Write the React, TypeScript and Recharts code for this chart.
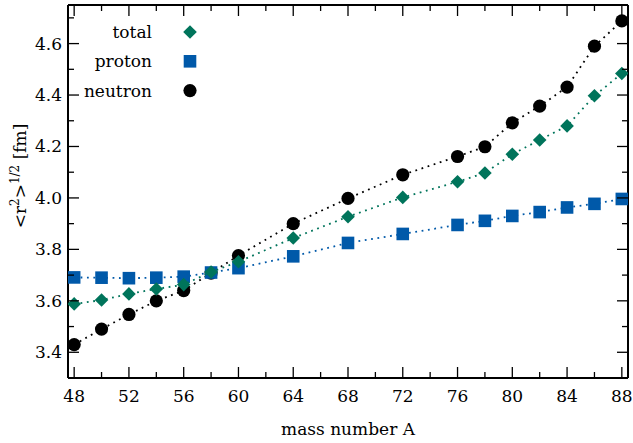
import { ScatterChart, Scatter, XAxis, YAxis, Label, ReferenceLine } from 'recharts';

// mass number A and rms radii <r^2>^1/2 in fm
const massNumbers = [48, 50, 52, 54, 56, 58, 60, 64, 68, 72, 76, 78, 80, 82, 84, 86, 88];
const totalRadius = [3.588, 3.603, 3.627, 3.646, 3.663, 3.712, 3.752, 3.844, 3.927, 4.002, 4.063, 4.097, 4.17, 4.225, 4.28, 4.397, 4.484];
const protonRadius = [3.691, 3.69, 3.688, 3.69, 3.694, 3.71, 3.727, 3.773, 3.825, 3.86, 3.895, 3.911, 3.93, 3.945, 3.963, 3.977, 3.996];
const neutronRadius = [3.43, 3.49, 3.547, 3.6, 3.64, 3.708, 3.776, 3.9, 3.998, 4.09, 4.161, 4.199, 4.292, 4.357, 4.431, 4.59, 4.688];

const xTicks = [48, 50, 52, 54, 56, 58, 60, 62, 64, 66, 68, 70, 72, 74, 76, 78, 80, 82, 84, 86, 88];
const yTicks = [3.4, 3.5, 3.6, 3.7, 3.8, 3.9, 4.0, 4.1, 4.2, 4.3, 4.4, 4.5, 4.6, 4.7];

const GREEN = '#00745b';
const BLUE = '#0059a9';
const FONT = '"DejaVu Serif", serif';
const W = 633;
const H = 443;
const MARGIN = { top: 5, right: 5, bottom: 0, left: 0 };
const PLOT_TOP = MARGIN.top;
const PLOT_RIGHT = W - MARGIN.right;

const toPoints = (ys: number[]) => massNumbers.map((a, i) => ({ a, r: ys[i] }));

const Diamond = ({ cx, cy, fill }: any) => (
  <path d={`M${cx},${cy - 6.8}L${cx + 6.8},${cy}L${cx},${cy + 6.8}L${cx - 6.8},${cy}Z`} fill={fill} />
);
const Square = ({ cx, cy, fill }: any) => <rect x={cx - 6.3} y={cy - 6.3} width={12.6} height={12.6} fill={fill} />;
const Dot = ({ cx, cy, fill }: any) => <circle cx={cx} cy={cy} r={6.6} fill={fill} />;

const isMajorX = (v: number) => v % 4 === 0;
const isMajorY = (v: number) => Math.round(v * 10) % 2 === 0;

// bottom ticks, mirrored on the top edge
const BottomTick = ({ x, y, payload }: any) => {
  const major = isMajorX(payload.value);
  const len = major ? 11 : 6;
  return (
    <g>
      <line x1={x} x2={x} y1={y} y2={y - len} stroke="#000" strokeWidth={1.3} />
      <line x1={x} x2={x} y1={PLOT_TOP} y2={PLOT_TOP + len} stroke="#000" strokeWidth={1.3} />
      {major && (
        <text x={x} y={y + 24} textAnchor="middle" fontSize={17} fontFamily={FONT} fill="#000">
          {payload.value}
        </text>
      )}
    </g>
  );
};

// left ticks, mirrored on the right edge
const LeftTick = ({ x, y, payload }: any) => {
  const major = isMajorY(payload.value);
  const len = major ? 11 : 6;
  return (
    <g>
      <line x1={x} x2={x + len} y1={y} y2={y} stroke="#000" strokeWidth={1.3} />
      <line x1={PLOT_RIGHT} x2={PLOT_RIGHT - len} y1={y} y2={y} stroke="#000" strokeWidth={1.3} />
      {major && (
        <text x={x - 6} y={y + 6} textAnchor="end" fontSize={17} fontFamily={FONT} fill="#000">
          {payload.value.toFixed(1)}
        </text>
      )}
    </g>
  );
};

const YTitle = () => (
  <text transform="translate(26,176) rotate(-90)" textAnchor="middle" fontSize={17} fontFamily={FONT} fill="#000">
    {'<r'}
    <tspan fontSize={12} dy={-7}>2</tspan>
    <tspan dy={7}>{'>'}</tspan>
    <tspan fontSize={12} dy={-7}>1/2</tspan>
    <tspan dy={7}> [fm]</tspan>
  </text>
);

const legendItems = [
  { label: 'total', color: GREEN, Shape: Diamond },
  { label: 'proton', color: BLUE, Shape: Square },
  { label: 'neutron', color: '#000', Shape: Dot },
];

const axisLine = { stroke: '#000', strokeWidth: 2 };
const xDomain = [47.55, 88.45];
const yDomain = [3.3, 4.75];
const dotted = { strokeWidth: 1.8, strokeDasharray: '1.8 4.6' };

export default function App() {
  return (
    <div style={{ position: 'absolute', left: 0, top: 0, width: W, height: H, background: '#fff' }}>
      <ScatterChart width={W} height={H} margin={MARGIN}>
        <XAxis
          type="number"
          dataKey="a"
          domain={xDomain}
          ticks={xTicks}
          interval={0}
          height={65}
          tickSize={0}
          tickMargin={0}
          tickLine={false}
          tick={<BottomTick />}
          axisLine={axisLine}
          allowDataOverflow
        >
          <Label value="mass number A" position="insideBottom" offset={8} fontSize={17} fontFamily={FONT} fill="#000" />
        </XAxis>
        <YAxis
          type="number"
          dataKey="r"
          domain={yDomain}
          ticks={yTicks}
          interval={0}
          width={68}
          tickSize={0}
          tickMargin={0}
          tickLine={false}
          tick={<LeftTick />}
          axisLine={axisLine}
          allowDataOverflow
        >
          <Label content={() => <YTitle />} />
        </YAxis>
        <ReferenceLine y={yDomain[1]} stroke="#000" strokeWidth={2} />
        <ReferenceLine x={xDomain[1]} stroke="#000" strokeWidth={2} />
        <Scatter
          data={toPoints(neutronRadius)}
          fill="#000"
          line={{ stroke: '#000', ...dotted }}
          lineType="joint"
          shape={<Dot />}
          isAnimationActive={false}
        />
        <Scatter
          data={toPoints(protonRadius)}
          fill={BLUE}
          line={{ stroke: BLUE, ...dotted }}
          lineType="joint"
          shape={<Square />}
          isAnimationActive={false}
        />
        <Scatter
          data={toPoints(totalRadius)}
          fill={GREEN}
          line={{ stroke: GREEN, ...dotted }}
          lineType="joint"
          shape={<Diamond />}
          isAnimationActive={false}
        />
      </ScatterChart>
      <svg width={W} height={H} style={{ position: 'absolute', left: 0, top: 0, pointerEvents: 'none' }}>
        {legendItems.map((it, i) => {
          const cy = 32 + i * 29.3;
          return (
            <g key={it.label}>
              <text x={152} y={cy + 6} textAnchor="end" fontSize={17} fontFamily={FONT} fill="#000">
                {it.label}
              </text>
              <it.Shape cx={190} cy={cy} fill={it.color} />
            </g>
          );
        })}
      </svg>
    </div>
  );
}
